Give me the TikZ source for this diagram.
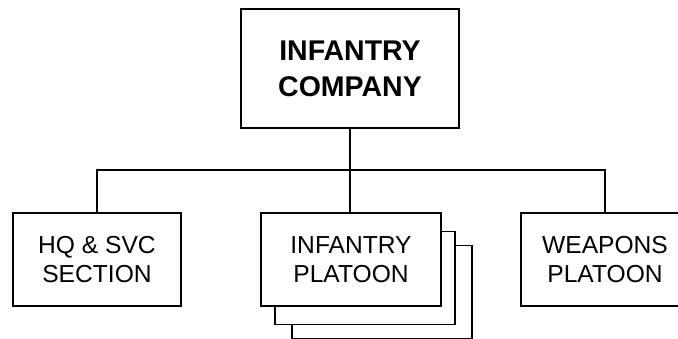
\documentclass[tikz,border=0pt]{standalone}
\usepackage{fontspec}
\setmainfont{Liberation Sans}

\newcommand*{\busy}{170}
\newcommand*{\unitw}{168pt}
\newcommand*{\unith}{93pt}

\begin{document}
\begin{tikzpicture}
[
	x=1pt, y=-1pt,
	line width=1.2pt,
	cmdbox/.style={draw,fill=white,align=center,inner sep=0pt,minimum width=218pt,minimum height=119pt,font=\bfseries\fontsize{28.5}{36}\selectfont},
	unit/.style={draw,fill=white,align=center,inner sep=0pt,minimum width=\unitw,minimum height=\unith,font=\fontsize{24.6}{29}\selectfont},
	platbox/.style={unit,minimum width=180pt}
]

	\useasboundingbox (0,0) rectangle (678,339);
	\clip (0,0) rectangle (678,339);

	% company
	\node[cmdbox] (company) at (350,68.5) {INFANTRY\\COMPANY};

	% units
	\node[unit] (hq) at (97,259.5) {HQ \& SVC\\SECTION};
	\node[platbox] (platoonc) at (382,292) {};
	\node[platbox] (platoonb) at (365,278) {};
	\node[platbox] (platoon) at (351,259.5) {INFANTRY\\PLATOON};
	\node[unit] (weapons) at (605,259.5) {WEAPONS\\PLATOON};

	% connectors
	\coordinate (bus) at (350,\busy);
	\draw (company.south) -- (company.south |- bus);
	\draw (hq.north) |- (bus) -| (weapons.north);
	\draw (bus) -- (platoon.north -| bus);

\end{tikzpicture}
\end{document}
